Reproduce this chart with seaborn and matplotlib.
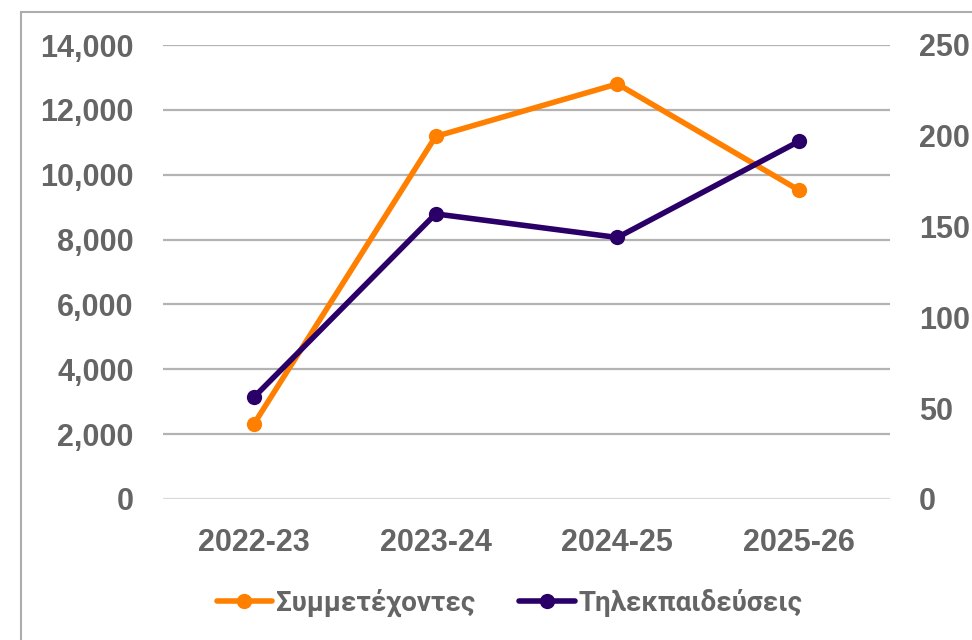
import matplotlib.pyplot as plt
import matplotlib.patches as mpatches
import pandas as pd
import seaborn as sns
from matplotlib.lines import Line2D
from matplotlib.ticker import FuncFormatter

seasons = ["2022-23", "2023-24", "2024-25", "2025-26"]
participants = [2310, 11180, 12800, 9520]
teletrainings = [56, 157, 144, 197]
left_ticks = [0, 2000, 4000, 6000, 8000, 10000, 12000, 14000]
right_ticks = [0, 50, 100, 150, 200, 250]
label_participants = "Συμμετέχοντες"
label_teletrainings = "Τηλεκπαιδεύσεις"

ORANGE = "#FF8000"
PURPLE = "#2A0068"
TEXT = "#656565"

sns.set_theme(style="white")
plt.rcParams["font.family"] = ["Liberation Sans", "DejaVu Sans"]

df = pd.DataFrame({"season": seasons, "participants": participants,
                   "teletrainings": teletrainings})

fig = plt.figure(figsize=(9.72, 6.4), dpi=100)
ax = fig.add_axes([163 / 972, 1 - 499 / 640, 727 / 972, 454 / 640])
ax2 = ax.twinx()

for y in left_ticks:
    ax.axhline(y, color="#D9D9D9" if y == 0 else "#B3B3B3", lw=1.6, zorder=0)

line_kw = dict(lw=4, marker="o", markersize=11, markeredgewidth=0, sort=False, zorder=3)
sns.lineplot(data=df, x="season", y="participants", ax=ax, color=ORANGE, **line_kw)
sns.lineplot(data=df, x="season", y="teletrainings", ax=ax2, color=PURPLE, **line_kw)

ax.set_xlim(-0.5, 3.5)
ax.set_ylim(0, 14000)
ax2.set_ylim(0, 250)
ax.set_yticks(left_ticks)
ax2.set_yticks(right_ticks)
ax.yaxis.set_major_formatter(FuncFormatter(lambda v, p: f"{v:,.0f}"))
ax.set(xlabel="", ylabel="")
ax2.set(xlabel="", ylabel="")

for a in (ax, ax2):
    for s in a.spines.values():
        s.set_visible(False)
    a.tick_params(length=0, labelsize=22, labelcolor=TEXT)
    for lbl in a.get_xticklabels() + a.get_yticklabels():
        lbl.set_fontweight("bold")
ax.tick_params(axis="y", pad=21)
ax.tick_params(axis="x", pad=21)
ax2.tick_params(axis="y", pad=21)

handles = [Line2D([], [], color=ORANGE, lw=4, marker="o", markersize=11, markeredgewidth=0),
           Line2D([], [], color=PURPLE, lw=4, marker="o", markersize=11, markeredgewidth=0)]
leg = fig.legend(handles, [label_participants, label_teletrainings], loc="center",
                 bbox_to_anchor=(0.524, 1 - 603 / 640), ncol=2, frameon=False,
                 handlelength=2.0, handletextpad=0.12, columnspacing=1.6,
                 prop={"family": ["Roboto", "DejaVu Sans"], "weight": "bold", "size": 20})
for t in leg.get_texts():
    t.set_color(TEXT)

fig.patches.append(mpatches.Rectangle((21 / 972, -0.1), 1.2, 1.1 - 12 / 640,
                                      transform=fig.transFigure, fill=False,
                                      edgecolor="#ADADAD", lw=1.5, clip_on=False))

fig.savefig("out.png", dpi=100)
